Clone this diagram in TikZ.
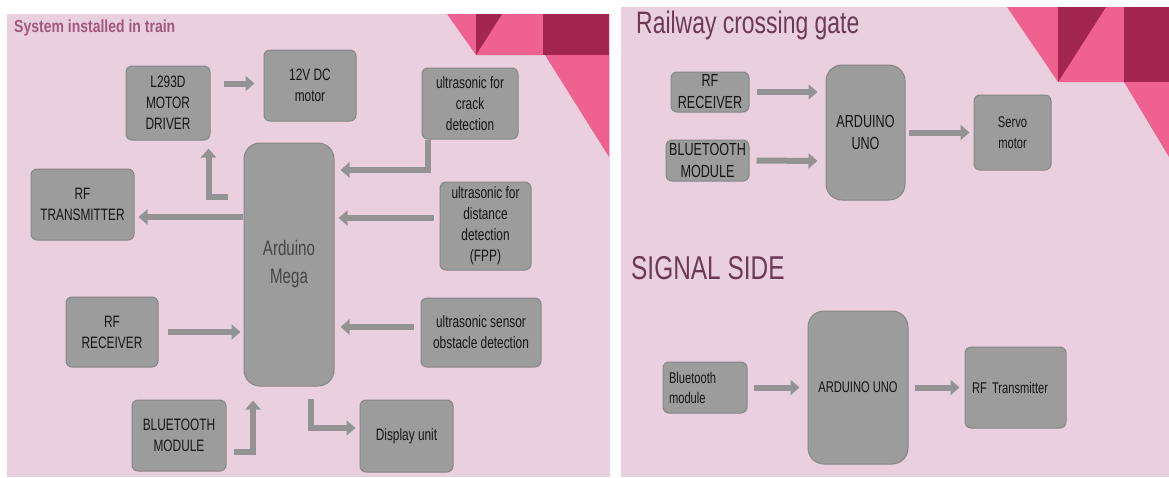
\documentclass[tikz,border=0pt]{standalone}
\usepackage{fontspec}
\setmainfont{Liberation Sans}
\newfontfamily\narrowfont[FakeStretch=0.72]{Liberation Sans}
\newfontfamily\titlenarrow[FakeStretch=0.80]{Liberation Sans}
\newfontfamily\titlecond[FakeStretch=0.74]{Liberation Sans}
\usetikzlibrary{arrows.meta}
\definecolor{panelbg}{HTML}{EAD0DE}
\definecolor{hotpink}{HTML}{EE6191}
\definecolor{crimson}{HTML}{A2264F}
\definecolor{boxfill}{HTML}{9C9C9C}
\definecolor{boxedge}{HTML}{868686}
\definecolor{arrowc}{HTML}{939393}
\definecolor{boxtext}{HTML}{161616}
\definecolor{lefttitlec}{HTML}{A0587F}
\definecolor{righttitlec}{HTML}{6B3A57}
\begin{document}
\begin{tikzpicture}[x=1pt,y=-1pt,
  block/.style={draw=boxedge, line width=1pt, fill=boxfill, rounded corners=6pt,
    text=boxtext, font=\narrowfont\fontsize{16.5}{21}\selectfont, align=center, inner sep=0pt},
  smallblock/.style={block, font=\narrowfont\fontsize{17.5}{22}\selectfont},
  sigblock/.style={block, font=\narrowfont\fontsize{15.5}{20}\selectfont},
  bigblock/.style={block, rounded corners=16pt},
  barrow/.style={draw=arrowc, line width=6pt, line join=miter,
    -{Triangle[length=9pt,width=15pt]}},
  lefttitle/.style={anchor=west, inner sep=0pt, text=lefttitlec,
    font=\titlenarrow\bfseries\fontsize{17.5}{19}\selectfont},
  righttitle/.style={anchor=west, inner sep=0pt, text=righttitlec,
    font=\titlecond\fontsize{31}{33}\selectfont}
]
\useasboundingbox (0,0) rectangle (1169,477);
\fill[white] (0,0) rectangle (1169,477);
% panels
\fill[panelbg] (7,14) rectangle (610,477);
\fill[panelbg] (621,7) rectangle (1169,477);
% decorations left
\fill[hotpink] (447,14) -- (543,14) -- (543,55) -- (476,55) -- cycle;
\fill[crimson] (476,14) -- (502,14) -- (476,55) -- cycle;
\fill[crimson] (543,14) rectangle (609,55);
\fill[hotpink] (545,55) -- (609,55) -- (609,157) -- cycle;
% decorations right
\fill[hotpink] (1007,7) -- (1124,7) -- (1124,82) -- (1058,82) -- cycle;
\fill[crimson] (1058,7) -- (1106,7) -- (1058,82) -- cycle;
\fill[crimson] (1124,7) rectangle (1169,82);
\fill[hotpink] (1124,82) -- (1169,82) -- (1169,157) -- cycle;

% ---------- left panel ----------
\node[lefttitle] (t1) at (14,28) {System installed in train};
\node[block, minimum width=84pt, minimum height=74pt] (l293) at (168,103) {L293D\\MOTOR\\DRIVER};
\node[block, minimum width=92pt, minimum height=71pt] (motor) at (310,85.5) {12V DC\\motor};
\node[block, minimum width=96pt, minimum height=71pt] (crack) at (470,103.5) {ultrasonic for\\crack\\detection};
\node[bigblock, minimum width=90pt, minimum height=243pt,
  font=\narrowfont\fontsize{21}{28}\selectfont, text=boxtext!80!white] (mega) at (289,264.5) {Arduino\\Mega};
\node[block, minimum width=103pt, minimum height=71pt] (rftx) at (82.5,204.5) {RF\\TRANSMITTER};
\node[block, minimum width=91pt, minimum height=88pt] (dist) at (485.5,226) {ultrasonic for\\distance\\detection\\(FPP)};
\node[block, minimum width=92pt, minimum height=70pt] (rfrx) at (112,332) {RF\\RECEIVER};
\node[block, minimum width=120pt, minimum height=69pt] (obst) at (481,332.5) {ultrasonic sensor\\obstacle detection};
\node[block, minimum width=94pt, minimum height=71pt] (bt) at (179,435.5) {BLUETOOTH\\MODULE};
\node[block, minimum width=93pt, minimum height=72pt] (disp) at (406.5,436) {Display unit};

\draw[barrow, shorten <=13pt, shorten >=9pt] ([yshift=2pt]l293.east |- motor.west) -- ([yshift=2pt]motor.west);
\draw[barrow, shorten >=8pt] ([xshift=-16pt,yshift=68pt]mega.west) -| ([xshift=-2pt]l293.south east);
\draw[barrow, shorten >=6pt] ([xshift=-42pt]crack.south) |- ([yshift=94.5pt]mega.east);
\draw[barrow, shorten <=1pt, shorten >=4pt] ([yshift=47.5pt]mega.west) -- ([yshift=-12.5pt]rftx.east);
\draw[barrow, shorten <=6pt, shorten >=4pt] ([yshift=8pt]dist.west) -- ([yshift=46.5pt]mega.east);
\draw[barrow, shorten <=9pt, shorten >=3pt] (rfrx.east) -- ([yshift=-67.5pt]mega.west);
\draw[barrow, shorten <=7pt, shorten >=6pt] ([yshift=5.5pt]obst.west) -- ([yshift=-62.5pt]mega.east);
\draw[barrow, shorten <=7pt, shorten >=14pt] ([yshift=-16.5pt]bt.east) -| ([xshift=-36pt]mega.south);
\draw[barrow, shorten <=12pt, shorten >=4pt] ([xshift=22pt]mega.south) |- ([yshift=8pt]disp.west);

% ---------- right panel: railway crossing gate ----------
\node[righttitle] (t2) at (636,25) {Railway crossing gate};
\node[smallblock, minimum width=78pt, minimum height=40pt] (rfrx2) at (710,92) {RF\\RECEIVER};
\node[smallblock, minimum width=83pt, minimum height=41pt] (bt2) at (707.5,160.5) {BLUETOOTH\\MODULE};
\node[bigblock, font=\narrowfont\fontsize{17.5}{22}\selectfont, minimum width=79pt, minimum height=135pt] (uno1) at (865.5,132.5) {ARDUINO\\UNO};
\node[smallblock, font=\narrowfont\fontsize{15.5}{21}\selectfont, minimum width=77pt, minimum height=75pt] (servo) at (1012.5,132.5) {Servo\\motor};

\draw[barrow, shorten <=7pt, shorten >=8pt] (rfrx2.east) -- ([yshift=40.5pt]uno1.west);
\draw[barrow, shorten <=7pt, shorten >=8pt] (bt2.east) -- ([yshift=-28.5pt]uno1.west);
\draw[barrow, shorten <=3pt, shorten >=4pt] (uno1.east) -- (servo.west);

% ---------- right panel: signal side ----------
\node[righttitle, font=\titlecond\fontsize{33}{35}\selectfont] (t3) at (631,268) {SIGNAL SIDE};
\node[sigblock, minimum width=84pt, minimum height=51pt, text width=72pt, align=left] (bt3) at (705,387.5) {Bluetooth\\module};
\node[bigblock, font=\narrowfont\fontsize{15.5}{20}\selectfont, minimum width=100pt, minimum height=153pt] (uno2) at (858,387.5) {ARDUINO UNO};
\node[sigblock, minimum width=101pt, minimum height=81pt, text width=87pt, align=left] (rftx2) at (1015.5,387.5) {RF Transmitter};

\draw[barrow, shorten <=6pt, shorten >=8pt] (bt3.east) -- (uno2.west);
\draw[barrow, shorten <=6pt, shorten >=5pt] (uno2.east) -- (rftx2.west);
\end{tikzpicture}
\end{document}
